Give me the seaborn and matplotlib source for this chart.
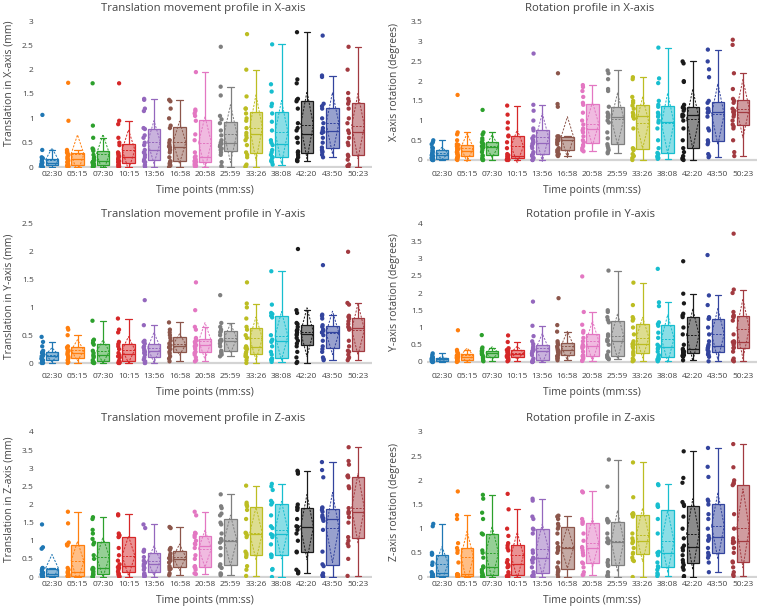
import matplotlib

matplotlib.use("Agg")
import matplotlib.pyplot as plt
import matplotlib.transforms as mtransforms
from matplotlib.colors import to_rgba
from matplotlib.ticker import FuncFormatter, MultipleLocator
import numpy as np
import pandas as pd
import seaborn as sns


TIME_POINTS = ["02:30", "05:15", "07:30", "10:15", "13:56", "16:58", "20:58",
               "25:59", "33:26", "38:08", "42:20", "43:50", "50:23"]

COLORS = ["#1f77b4", "#ff7f0e", "#2ca02c", "#d62728", "#9467bd", "#8c564b", "#e377c2",
          "#7f7f7f", "#bcbd22", "#17becf", "#1a1a1a", "#33449e", "#a23a40"]

# values, one list per time point
TRANS_X = [
    [0, 0, 0.01, 0.02, 0.03, 0.04, 0.05, 0.06, 0.07, 0.08, 0.1, 0.12, 0.15, 0.17, 0.18, 0.2, 0.35, 1.07],
    [0, 0, 0.01, 0.02, 0.03, 0.05, 0.08, 0.1, 0.13, 0.15, 0.17, 0.2, 0.22, 0.25, 0.28, 0.3, 0.32, 0.35, 0.95, 1.73],
    [0, 0, 0.01, 0.02, 0.03, 0.05, 0.07, 0.09, 0.1, 0.12, 0.14, 0.18, 0.2, 0.25, 0.33, 0.36, 0.38, 0.6, 0.85, 1.72],
    [0, 0.01, 0.03, 0.05, 0.06, 0.1, 0.12, 0.15, 0.17, 0.2, 0.22, 0.25, 0.28, 0.3, 0.45, 0.5, 0.6, 0.88, 0.95, 1.72],
    [0, 0.02, 0.05, 0.1, 0.12, 0.15, 0.2, 0.25, 0.3, 0.3, 0.35, 0.45, 0.5, 0.6, 0.65, 0.78, 0.8, 1.15, 1.2, 1.38, 1.4],
    [0, 0.03, 0.05, 0.07, 0.1, 0.12, 0.2, 0.3, 0.35, 0.4, 0.42, 0.45, 0.5, 0.55, 0.8, 0.85, 1.0, 1.2, 1.35, 1.38],
    [0, 0.02, 0.03, 0.05, 0.08, 0.1, 0.12, 0.15, 0.18, 0.2, 0.22, 0.3, 0.55, 0.67, 0.95, 1.05, 1.1, 1.15, 1.18, 1.95],
    [0, 0.02, 0.1, 0.25, 0.3, 0.35, 0.38, 0.42, 0.45, 0.48, 0.5, 0.55, 0.65, 0.75, 0.9, 0.98, 1.05, 1.47, 1.65, 2.47],
    [0, 0.02, 0.05, 0.2, 0.25, 0.3, 0.45, 0.55, 0.6, 0.65, 0.7, 0.8, 0.95, 1.0, 1.1, 1.2, 1.2, 1.45, 2.0, 2.73],
    [0.05, 0.1, 0.12, 0.15, 0.2, 0.2, 0.25, 0.3, 0.35, 0.45, 0.5, 0.55, 0.75, 0.93, 1.1, 1.25, 1.3, 1.55, 1.7, 2.52],
    [0.12, 0.13, 0.15, 0.2, 0.25, 0.3, 0.32, 0.5, 0.6, 0.6, 0.75, 0.8, 0.9, 1.2, 1.35, 1.38, 1.4, 1.72, 1.8, 2.77],
    [0.2, 0.25, 0.3, 0.32, 0.35, 0.4, 0.5, 0.6, 0.7, 0.72, 0.75, 0.8, 0.9, 1.0, 1.2, 1.25, 1.3, 1.85, 1.88, 2.7],
    [0, 0.02, 0.05, 0.15, 0.22, 0.25, 0.45, 0.5, 0.6, 0.7, 0.75, 0.9, 1.0, 1.2, 1.3, 1.35, 1.4, 1.52, 2.0, 2.47],
]

ROT_X = [
    [0, 0, 0, 0.01, 0.02, 0.03, 0.05, 0.08, 0.1, 0.12, 0.15, 0.17, 0.2, 0.22, 0.25, 0.3, 0.32, 0.4, 0.45, 0.5],
    [0, 0.02, 0.04, 0.05, 0.07, 0.1, 0.12, 0.15, 0.18, 0.2, 0.22, 0.25, 0.28, 0.3, 0.35, 0.38, 0.4, 0.5, 0.65, 0.7, 1.65],
    [0, 0, 0.02, 0.05, 0.1, 0.12, 0.2, 0.25, 0.3, 0.32, 0.33, 0.35, 0.38, 0.4, 0.43, 0.45, 0.5, 0.55, 0.65, 0.7, 1.27],
    [0, 0, 0.01, 0.02, 0.03, 0.05, 0.06, 0.08, 0.1, 0.1, 0.12, 0.15, 0.3, 0.45, 0.6, 0.62, 0.8, 0.95, 1.15, 1.38],
    [0, 0, 0.05, 0.1, 0.12, 0.15, 0.2, 0.3, 0.35, 0.4, 0.42, 0.45, 0.5, 0.55, 0.6, 0.75, 0.8, 1.0, 1.25, 1.4, 2.7],
    [0.1, 0.12, 0.15, 0.2, 0.25, 0.25, 0.3, 0.4, 0.45, 0.5, 0.5, 0.52, 0.55, 0.58, 0.6, 0.6, 1.35, 1.42, 2.2],
    [0.22, 0.25, 0.3, 0.35, 0.38, 0.45, 0.5, 0.6, 0.7, 0.75, 0.8, 0.9, 1.0, 1.2, 1.4, 1.45, 1.6, 1.75, 1.85, 1.9],
    [0.17, 0.2, 0.25, 0.3, 0.35, 0.4, 0.55, 0.7, 0.95, 1.0, 1.08, 1.1, 1.12, 1.15, 1.2, 1.35, 1.75, 1.8, 2.05, 2.2, 2.27],
    [0, 0.05, 0.1, 0.15, 0.25, 0.28, 0.3, 0.8, 1.05, 1.1, 1.12, 1.15, 1.2, 1.3, 1.38, 1.45, 1.5, 1.6, 2.05, 2.1],
    [0.03, 0.05, 0.08, 0.1, 0.15, 0.18, 0.3, 0.5, 0.8, 0.95, 1.0, 1.1, 1.15, 1.2, 1.35, 1.4, 1.5, 1.95, 2.07, 2.85],
    [0, 0.02, 0.05, 0.1, 0.2, 0.3, 0.5, 0.8, 1.0, 1.1, 1.13, 1.15, 1.25, 1.3, 1.33, 1.35, 1.4, 1.98, 2.0, 2.45, 2.5],
    [0.07, 0.1, 0.15, 0.4, 0.45, 0.5, 0.75, 0.8, 1.1, 1.2, 1.22, 1.25, 1.3, 1.3, 1.45, 1.5, 2.1, 2.3, 2.5, 2.8],
    [0.1, 0.2, 0.5, 0.8, 0.85, 0.9, 1.0, 1.1, 1.15, 1.2, 1.22, 1.25, 1.3, 1.45, 1.5, 1.55, 1.8, 2.2, 2.92, 3.05],
]

TRANS_Y = [
    [0, 0, 0.02, 0.04, 0.05, 0.07, 0.08, 0.1, 0.12, 0.13, 0.15, 0.17, 0.18, 0.2, 0.22, 0.3, 0.38, 0.47],
    [0, 0.02, 0.05, 0.08, 0.1, 0.12, 0.15, 0.17, 0.2, 0.22, 0.25, 0.28, 0.3, 0.5, 0.6, 0.63],
    [0, 0, 0.01, 0.03, 0.05, 0.1, 0.12, 0.14, 0.18, 0.22, 0.33, 0.36, 0.4, 0.42, 0.76],
    [0, 0, 0.01, 0.02, 0.04, 0.1, 0.12, 0.14, 0.18, 0.25, 0.3, 0.34, 0.38, 0.55, 0.6, 0.8],
    [0, 0, 0.03, 0.06, 0.1, 0.15, 0.18, 0.2, 0.22, 0.24, 0.28, 0.3, 0.35, 0.38, 0.4, 0.68, 1.13],
    [0.03, 0.08, 0.12, 0.17, 0.2, 0.25, 0.28, 0.3, 0.32, 0.35, 0.4, 0.45, 0.5, 0.55, 0.6, 0.73],
    [0.03, 0.05, 0.1, 0.15, 0.18, 0.2, 0.25, 0.28, 0.3, 0.32, 0.35, 0.38, 0.4, 0.43, 0.45, 0.6, 0.65, 0.95, 1.45],
    [0.12, 0.15, 0.18, 0.2, 0.22, 0.3, 0.35, 0.4, 0.4, 0.42, 0.5, 0.55, 0.57, 0.6, 0.65, 0.72, 1.22],
    [0, 0.05, 0.1, 0.12, 0.15, 0.17, 0.2, 0.25, 0.27, 0.28, 0.3, 0.45, 0.5, 0.6, 0.65, 0.8, 1.0, 1.07, 1.45],
    [0.02, 0.05, 0.06, 0.07, 0.08, 0.15, 0.2, 0.3, 0.38, 0.4, 0.42, 0.5, 0.82, 0.85, 0.88, 0.9, 1.05, 1.65],
    [0, 0.02, 0.1, 0.2, 0.3, 0.35, 0.4, 0.45, 0.5, 0.52, 0.55, 0.58, 0.6, 0.65, 0.7, 0.72, 0.9, 0.95, 2.05],
    [0.05, 0.07, 0.1, 0.2, 0.25, 0.3, 0.4, 0.5, 0.55, 0.55, 0.58, 0.6, 0.65, 0.68, 0.8, 0.85, 0.87, 1.76],
    [0.05, 0.08, 0.1, 0.15, 0.2, 0.22, 0.3, 0.4, 0.6, 0.63, 0.65, 0.7, 0.75, 0.8, 0.83, 0.85, 1.05, 1.08, 2.0],
]

ROT_Y = [
    [0, 0, 0.01, 0.02, 0.03, 0.05, 0.06, 0.08, 0.08, 0.1, 0.12, 0.13, 0.15, 0.2, 0.25],
    [0, 0.02, 0.04, 0.05, 0.07, 0.1, 0.12, 0.13, 0.15, 0.18, 0.2, 0.22, 0.25, 0.3, 0.35, 0.92],
    [0.02, 0.05, 0.1, 0.13, 0.15, 0.2, 0.22, 0.25, 0.27, 0.3, 0.32, 0.34, 0.38, 0.42, 0.78],
    [0.02, 0.05, 0.1, 0.12, 0.15, 0.18, 0.2, 0.22, 0.24, 0.27, 0.3, 0.33, 0.35, 0.4, 0.58, 0.77],
    [0, 0, 0.01, 0.02, 0.05, 0.1, 0.2, 0.25, 0.3, 0.32, 0.35, 0.4, 0.45, 0.52, 0.6, 0.75, 1.05, 1.75],
    [0.05, 0.1, 0.12, 0.17, 0.2, 0.25, 0.28, 0.3, 0.32, 0.35, 0.4, 0.45, 0.5, 0.55, 0.6, 0.88, 1.07, 1.85],
    [0.03, 0.05, 0.1, 0.15, 0.17, 0.2, 0.3, 0.4, 0.45, 0.45, 0.5, 0.6, 0.7, 0.85, 0.9, 1.08, 1.45, 2.48],
    [0.08, 0.1, 0.1, 0.12, 0.15, 0.2, 0.3, 0.5, 0.6, 0.62, 0.65, 0.75, 0.8, 1.15, 1.22, 1.3, 1.45, 1.5, 2.65],
    [0.02, 0.05, 0.1, 0.2, 0.25, 0.3, 0.4, 0.45, 0.5, 0.52, 0.55, 0.6, 0.8, 1.0, 1.2, 1.25, 1.3, 1.65, 2.3],
    [0.02, 0.05, 0.07, 0.08, 0.1, 0.15, 0.2, 0.3, 0.38, 0.4, 0.45, 0.5, 0.7, 0.85, 1.05, 1.1, 1.15, 1.62, 1.73, 2.7],
    [0.05, 0.15, 0.18, 0.2, 0.24, 0.25, 0.28, 0.3, 0.33, 0.35, 0.38, 0.5, 0.8, 1.0, 1.3, 1.35, 1.4, 1.7, 1.98, 2.92],
    [0.02, 0.15, 0.2, 0.22, 0.25, 0.3, 0.35, 0.4, 0.42, 0.45, 0.5, 0.6, 0.8, 1.0, 1.25, 1.27, 1.3, 1.65, 1.93, 3.1],
    [0.02, 0.05, 0.1, 0.3, 0.4, 0.42, 0.5, 0.55, 0.57, 0.58, 0.6, 0.8, 1.2, 1.3, 1.32, 1.35, 1.45, 2.0, 2.1, 3.72],
]

TRANS_Z = [
    [0, 0, 0.01, 0.02, 0.03, 0.05, 0.05, 0.07, 0.08, 0.1, 0.12, 0.15, 0.2, 0.24, 0.25, 0.78, 0.82, 1.45],
    [0, 0, 0.01, 0.02, 0.03, 0.05, 0.08, 0.1, 0.12, 0.15, 0.2, 0.25, 0.87, 0.88, 0.9, 0.95, 1.48, 1.8],
    [0, 0, 0.02, 0.05, 0.07, 0.1, 0.15, 0.2, 0.22, 0.23, 0.25, 0.5, 0.6, 0.9, 0.95, 1.05, 1.2, 1.3, 1.6, 1.65],
    [0, 0.02, 0.05, 0.08, 0.1, 0.15, 0.2, 0.25, 0.27, 0.28, 0.35, 0.45, 0.6, 0.8, 1.1, 1.12, 1.15, 1.2, 1.7, 1.73],
    [0, 0.03, 0.05, 0.08, 0.1, 0.2, 0.25, 0.3, 0.35, 0.38, 0.4, 0.45, 0.55, 0.7, 0.72, 0.75, 1.35, 1.45],
    [0.05, 0.1, 0.2, 0.23, 0.25, 0.3, 0.4, 0.45, 0.5, 0.52, 0.55, 0.6, 0.65, 0.75, 0.77, 0.8, 1.35, 1.38],
    [0.08, 0.1, 0.2, 0.25, 0.28, 0.3, 0.5, 0.6, 0.8, 0.9, 0.92, 1.0, 1.1, 1.15, 1.2, 1.22, 1.7, 1.8],
    [0.05, 0.08, 0.1, 0.25, 0.3, 0.35, 0.6, 0.8, 0.95, 1.0, 1.05, 1.2, 1.45, 1.5, 1.7, 1.75, 1.9, 1.95, 2.28],
    [0.03, 0.2, 0.3, 0.55, 0.6, 0.65, 0.7, 1.1, 1.15, 1.2, 1.22, 1.6, 1.85, 1.95, 1.97, 2.0, 2.05, 2.52],
    [0, 0.2, 0.22, 0.55, 0.6, 0.62, 0.9, 1.1, 1.15, 1.18, 1.35, 1.4, 1.7, 2.0, 2.05, 2.1, 2.4, 2.5, 2.57],
    [0.1, 0.12, 0.15, 0.2, 0.68, 0.7, 1.0, 1.2, 1.3, 1.38, 1.4, 1.6, 1.85, 1.9, 1.93, 2.0, 2.85, 2.9, 2.93],
    [0, 0.02, 0.05, 0.1, 0.3, 0.35, 0.7, 1.3, 1.55, 1.6, 1.62, 1.65, 1.7, 1.8, 1.85, 1.9, 1.92, 2.75, 2.95, 3.17],
    [0.03, 0.5, 0.85, 0.92, 1.0, 1.1, 1.5, 1.65, 1.75, 1.78, 1.8, 1.9, 2.45, 2.5, 2.75, 2.78, 2.8, 3.1, 3.2, 3.58],
]

ROT_Z = [
    [0, 0, 0.01, 0.02, 0.03, 0.04, 0.05, 0.06, 0.1, 0.25, 0.3, 0.46, 0.48, 0.5, 1.05, 1.1],
    [0, 0, 0.01, 0.02, 0.03, 0.04, 0.05, 0.05, 0.06, 0.3, 0.5, 0.55, 0.6, 0.7, 1.2, 1.28, 1.77],
    [0, 0, 0.01, 0.02, 0.03, 0.05, 0.08, 0.1, 0.15, 0.2, 0.22, 0.4, 0.5, 0.55, 0.88, 0.9, 1.2, 1.33, 1.62, 1.7],
    [0, 0, 0.01, 0.02, 0.04, 0.05, 0.1, 0.2, 0.22, 0.25, 0.3, 0.35, 0.55, 0.6, 0.65, 0.7, 0.85, 1.0, 1.4, 1.72],
    [0, 0, 0.02, 0.03, 0.05, 0.1, 0.2, 0.3, 0.35, 0.38, 0.4, 0.5, 0.55, 0.9, 0.98, 1.0, 1.2, 1.25, 1.58, 1.62],
    [0, 0.05, 0.1, 0.12, 0.15, 0.2, 0.3, 0.5, 0.55, 0.6, 0.62, 0.7, 0.9, 1.0, 1.05, 1.1, 1.2, 1.25, 1.27],
    [0.04, 0.05, 0.1, 0.2, 0.28, 0.3, 0.45, 0.5, 0.55, 0.6, 0.62, 0.75, 0.9, 1.1, 1.13, 1.15, 1.2, 1.75, 1.77],
    [0, 0.02, 0.05, 0.1, 0.23, 0.25, 0.3, 0.35, 0.7, 0.72, 0.75, 0.8, 0.9, 1.13, 1.15, 1.17, 1.2, 1.87, 2.43],
    [0, 0.33, 0.35, 0.4, 0.48, 0.5, 0.6, 0.7, 0.73, 0.75, 0.8, 0.9, 1.25, 1.29, 1.3, 1.32, 1.65, 2.37],
    [0.02, 0.05, 0.08, 0.15, 0.2, 0.22, 0.3, 0.45, 0.5, 0.5, 0.52, 0.9, 1.2, 1.45, 1.47, 1.5, 1.9, 1.92],
    [0, 0.02, 0.15, 0.2, 0.25, 0.3, 0.35, 0.45, 0.55, 0.6, 0.65, 0.8, 1.0, 1.25, 1.47, 1.5, 1.55, 1.95, 2.05, 2.6],
    [0.1, 0.3, 0.4, 0.45, 0.45, 0.5, 0.6, 0.75, 0.77, 0.8, 0.85, 1.0, 1.2, 1.3, 1.5, 1.57, 1.6, 2.07, 2.28, 2.67],
    [0.02, 0.05, 0.1, 0.2, 0.3, 0.32, 0.5, 0.6, 0.7, 0.72, 0.75, 0.8, 1.0, 1.3, 1.9, 1.93, 1.95, 2.0, 2.27, 2.75],
]

TITLES = ["Translation movement profile in X-axis", "Rotation profile in X-axis",
          "Translation movement profile in Y-axis", "Rotation profile in Y-axis",
          "Translation movement profile in Z-axis", "Rotation profile in Z-axis"]
YLABELS = ["Translation in X-axis (mm)", "X-axis rotation (degrees)",
           "Translation in Y-axis (mm)", "Y-axis rotation (degrees)",
           "Translation in Z-axis (mm)", "Z-axis rotation (degrees)"]
Y_TOPS = [3.0, 3.5, 2.5, 4.0, 4.0, 3.0]

# layout in pixels of the 760x609 canvas
W, H = 760, 609
COL_X = [(38, 372), (427, 757)]
COL_FIRST = [52, 442]
COL_STEP = [25.5, 25.08]
ROW_BOX = [(14, 168), (218, 370), (426, 578)]
# (top tick px, zero px) per panel
TICK_PX = [(21, 167), (22, 160), (224, 363), (224, 362), (432, 577), (432, 577)]
TITLE_Y = [8, 215, 419]
TITLE_X = [203, 590]
YLABEL_X = [9, 395]
YLABEL_Y = [(83, 82), (296, 292), (499, 502)]

TEXT = "#444444"
BOX_W = 0.5
POINT_SHIFT = -0.38


def draw_panel(fig, idx, values):
    row, col = divmod(idx, 2)
    left, right = COL_X[col]
    top, bottom = ROW_BOX[row]
    ax = fig.add_axes([left / W, 1 - bottom / H, (right - left) / W, (bottom - top) / H])

    df = pd.DataFrame(
        [(tp, v) for tp, vals in zip(TIME_POINTS, values) for v in vals],
        columns=["time", "value"],
    )

    ax.axhline(0, color="#d4d4d4", lw=1.6, zorder=0.5)

    for i, (tp, color) in enumerate(zip(TIME_POINTS, COLORS)):
        sub = df[df["time"] == tp]
        sns.boxplot(data=sub, x="time", y="value", order=TIME_POINTS, color=color,
                    linecolor=color, saturation=1, width=BOX_W, showfliers=False,
                    linewidth=0.9, ax=ax)
        ax.patches[-1].set_facecolor(to_rgba(color, 0.5))

        arr = np.asarray(values[i])
        mean, sd = arr.mean(), arr.std()
        hw = BOX_W / 2
        style = dict(color=color, lw=0.7, ls=(0, (2.2, 1.4)), zorder=3)
        ax.plot([i - hw, i + hw], [mean, mean], **style)
        ax.plot([i - hw, i, i + hw, i, i - hw], [mean, mean + sd, mean, mean - sd, mean], **style)

    sns.stripplot(data=df, x="time", y="value", hue="time", order=TIME_POINTS,
                  hue_order=TIME_POINTS, palette=COLORS, jitter=0.035, size=3.1,
                  linewidth=0, legend=False, ax=ax, zorder=4)
    shift = mtransforms.Affine2D().translate(POINT_SHIFT, 0) + ax.transData
    for coll in ax.collections:
        coll.set_offset_transform(shift)

    # x range from the pixel positions of the first and last category
    first, step = COL_FIRST[col], COL_STEP[col]
    ax.set_xlim((left - first) / step, (right - first) / step)
    top_px, zero_px = TICK_PX[idx]
    k = (zero_px - top_px) / Y_TOPS[idx]
    ax.set_ylim(-(bottom - zero_px) / k, (zero_px - top) / k)

    ax.yaxis.set_major_locator(MultipleLocator(0.5))
    ax.yaxis.set_major_formatter(FuncFormatter(lambda v, _: f"{v:g}"))
    ax.set_xticks(range(len(TIME_POINTS)))
    ax.set_xticklabels(TIME_POINTS)
    ax.tick_params(axis="both", length=0, labelsize=6, colors=TEXT)
    ax.tick_params(axis="x", pad=2)
    ax.tick_params(axis="y", pad=3)
    for spine in ax.spines.values():
        spine.set_visible(False)
    ax.grid(False)
    ax.set_xlabel("Time points (mm:ss)", fontsize=7.5, color=TEXT, labelpad=5.5)
    ax.set_ylabel("")

    fig.text(TITLE_X[col] / W, 1 - TITLE_Y[row] / H, TITLES[idx], fontsize=8.2,
             color=TEXT, ha="center", va="center")
    fig.text(YLABEL_X[col] / W, 1 - YLABEL_Y[row][col] / H, YLABELS[idx], fontsize=7.5,
             color=TEXT, ha="center", va="center", rotation=90)


def main() -> None:
    sns.set_theme(style="white")
    plt.rcParams["font.family"] = ["Open Sans", "DejaVu Sans"]
    fig = plt.figure(figsize=(W / 100, H / 100), dpi=100)
    for idx, values in enumerate([TRANS_X, ROT_X, TRANS_Y, ROT_Y, TRANS_Z, ROT_Z]):
        draw_panel(fig, idx, values)
    fig.savefig("out.png", dpi=100)
    plt.close(fig)


if __name__ == "__main__":
    main()
